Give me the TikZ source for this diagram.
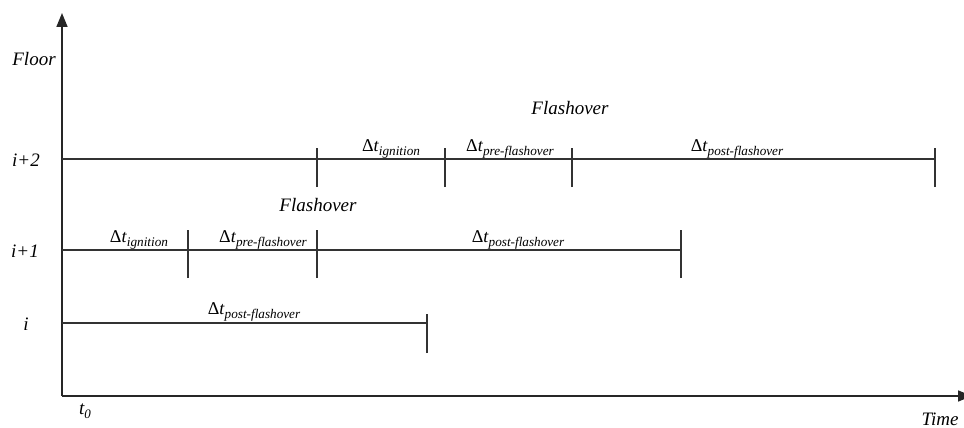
\documentclass[tikz,border=0pt]{standalone}
\usepackage{fontspec}
\setmainfont{Liberation Serif}
\usetikzlibrary{arrows.meta}
\newcommand{\dtl}[1]{{\fontsize{18}{18}\selectfont Δ\textit{t}}\raisebox{-4pt}{\fontsize{13.2}{13.2}\selectfont\textit{#1}}}
\tikzset{
  axis/.style={line width=1.6pt, draw=black!85},
  seg/.style={line width=1.3pt, draw=black!80},
  tick/.style={line width=1.3pt, draw=black!80},
  lbl/.style={font=\fontsize{19}{19}\selectfont\itshape, inner sep=0pt},
  dlbl/.style={inner sep=0pt, anchor=base},
}
\begin{document}
\begin{tikzpicture}[x=1pt,y=-1pt]
\useasboundingbox (0,0) rectangle (964,428);
% axes
\coordinate (O) at (62,396);
\coordinate (ytop) at (62,13);
\coordinate (xend) at (972,396);
\draw[axis,-{Triangle[length=14pt,width=11pt]}] (O) -- (ytop);
\draw[axis,-{Triangle[length=14pt,width=11pt]}] (O) -- (xend);
% axis labels
\node[lbl] (floor) at (34,59) {Floor};
\node[lbl] (ip2) at (26,160) {i+2};
\node[lbl] (ip1) at (25,251) {i+1};
\node[lbl] (i0) at (26,324) {i};
\node[lbl] (t0) at (85,411) {t\raisebox{-3.5pt}{\fontsize{13}{13}\selectfont 0}};
\node[lbl] (time) at (940,419) {Time};
% row i+2
\coordinate (a0) at (62,159);
\coordinate (a1) at (317,159);
\coordinate (a2) at (445,159);
\coordinate (a3) at (572,159);
\coordinate (a4) at (935,159);
\draw[seg] (a0) -- (a1) -- (a2) -- (a3) -- (a4);
\foreach \p in {a1,a2,a3,a4} \draw[tick] ([yshift=-28pt]\p) -- ([yshift=11pt]\p);
\node[dlbl] (a12) at (391,151) {\dtl{ignition}};
\node[dlbl] (a23) at (510,151) {\dtl{pre-flashover}};
\node[dlbl] (a34) at (737,151) {\dtl{post-flashover}};
\node[lbl] (fl2) at (570,108) {Flashover};
% row i+1
\coordinate (b0) at (62,250);
\coordinate (b1) at (188,250);
\coordinate (b2) at (317,250);
\coordinate (b3) at (681,250);
\draw[seg] (b0) -- (b1) -- (b2) -- (b3);
\foreach \p in {b1,b2,b3} \draw[tick] ([yshift=-28pt]\p) -- ([yshift=20pt]\p);
\node[dlbl] (b01) at (139,242) {\dtl{ignition}};
\node[dlbl] (b12) at (263,242) {\dtl{pre-flashover}};
\node[dlbl] (b23) at (518,242) {\dtl{post-flashover}};
\node[lbl] (fl1) at (318,205) {Flashover};
% row i
\coordinate (c0) at (62,323);
\coordinate (c1) at (427,323);
\draw[seg] (c0) -- (c1);
\draw[tick] ([yshift=-30pt]c1) -- ([yshift=9pt]c1);
\node[dlbl] (c01) at (254,314) {\dtl{post-flashover}};
\end{tikzpicture}
\end{document}
